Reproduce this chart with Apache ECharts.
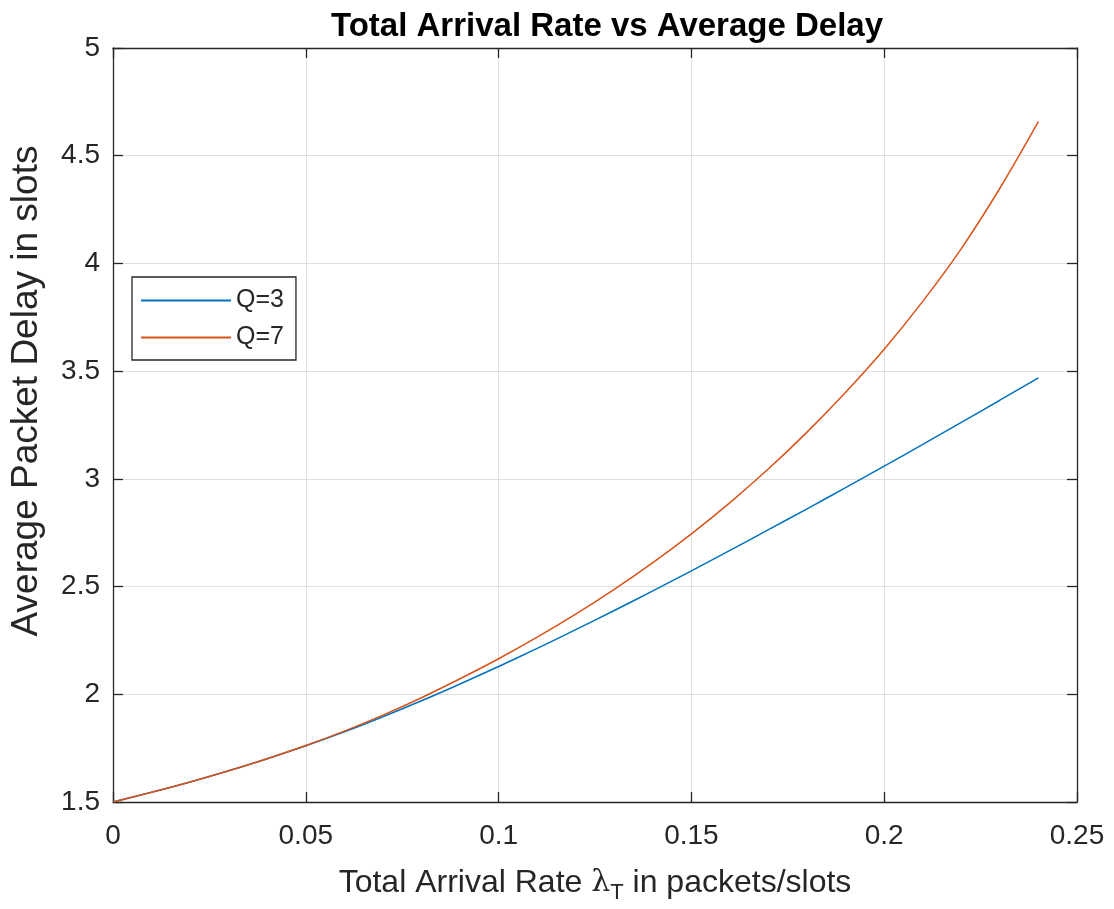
<!DOCTYPE html>
<html>
<head>
<meta charset="utf-8">
<script src="https://cdn.jsdelivr.net/npm/echarts@6/dist/echarts.min.js"></script>
<style>html,body{margin:0;padding:0;background:#fff;}#chart{width:1114px;height:909px;}</style>
</head>
<body>
<div id="chart"></div>
<script>
// Data
const xValues = [0.00,0.01,0.02,0.03,0.04,0.05,0.06,0.07,0.08,0.09,0.10,0.11,0.12,0.13,0.14,0.15,0.16,0.17,0.18,0.19,0.20,0.21,0.22,0.23,0.24];
const q3Delay = [1.500,1.545,1.593,1.645,1.701,1.761,1.826,1.896,1.970,2.048,2.129,2.213,2.300,2.389,2.480,2.573,2.668,2.764,2.861,2.959,3.059,3.160,3.262,3.365,3.469];
const q7Delay = [1.500,1.545,1.593,1.645,1.701,1.762,1.829,1.903,1.984,2.072,2.165,2.265,2.372,2.487,2.611,2.745,2.890,3.047,3.217,3.402,3.602,3.824,4.069,4.349,4.659];
const seriesNames = ['Q=3', 'Q=7'];
const xTicks = [0, 0.05, 0.1, 0.15, 0.2, 0.25];
const yTicks = [1.5, 2, 2.5, 3, 3.5, 4, 4.5, 5];

const FONT = 'Liberation Sans, Arial, sans-serif';
const TXT = '#262626';

const pairs = (ys) => xValues.map((x, i) => [x, ys[i]]);

const chart = echarts.init(document.getElementById('chart'), null, {renderer: 'canvas'});
const axisCommon = {
  type: 'value',
  axisLine: {show: true, onZero: false, lineStyle: {color: TXT, width: 1.3}},
  axisTick: {show: true, inside: true, length: 10, lineStyle: {color: TXT, width: 1.3}},
};
chart.setOption({
  animation: false,
  backgroundColor: '#fff',
  title: {
    text: 'Total Arrival Rate vs Average Delay',
    left: 602, top: 5, textAlign: 'center',
    textStyle: {fontFamily: FONT, fontWeight: 'bold', fontSize: 33, color: '#000'}
  },
  grid: {left: 110, right: 37, top: 48, bottom: 104, containLabel: false},
  legend: {
    left: 132, top: 277,
    orient: 'vertical',
    backgroundColor: '#fff',
    borderColor: TXT, borderWidth: 1.3, borderRadius: 0,
    padding: [11, 12, 10, 8],
    itemWidth: 90, itemHeight: 14, itemGap: 12,
    itemStyle: {opacity: 0},
    textStyle: {fontFamily: FONT, fontSize: 25, color: TXT},
    data: seriesNames
  },
  xAxis: [
    Object.assign({}, axisCommon, {
      position: 'bottom', min: xTicks[0], max: xTicks[xTicks.length - 1], interval: 0.05,
      axisLabel: {show: true, fontFamily: FONT, fontSize: 28, color: TXT, margin: 20,
        formatter: (v) => String(+v.toFixed(2))},
      splitLine: {show: true, lineStyle: {color: '#e0e0e0', width: 1}},
      name: '{a|Total Arrival Rate }{l|λ}{s|T}{a| in packets/slots}',
      nameLocation: 'middle', nameGap: 60,
      nameTextStyle: {
        rich: {
          a: {fontFamily: FONT, fontSize: 32, color: TXT},
          l: {fontFamily: 'DejaVu Serif, serif', fontSize: 30, color: TXT},
          s: {fontFamily: FONT, fontSize: 22, color: TXT, padding: [20, 0, 0, 0]}
        }
      }
    }),
    Object.assign({}, axisCommon, {
      position: 'top', min: xTicks[0], max: xTicks[xTicks.length - 1], interval: 0.05,
      axisLabel: {show: false}, splitLine: {show: false}
    })
  ],
  yAxis: [
    Object.assign({}, axisCommon, {
      position: 'left', min: yTicks[0], max: yTicks[yTicks.length - 1], interval: 0.5,
      axisLabel: {show: true, fontFamily: FONT, fontSize: 28, color: TXT, margin: 13,
        formatter: (v) => String(+v.toFixed(1))},
      splitLine: {show: true, lineStyle: {color: '#e0e0e0', width: 1}},
      name: 'Average Packet Delay in slots',
      nameLocation: 'middle', nameGap: 68, nameRotate: 90,
      nameTextStyle: {fontFamily: FONT, fontSize: 37, color: TXT, padding: [0, 0, 0, 68]}
    }),
    Object.assign({}, axisCommon, {
      position: 'right', min: yTicks[0], max: yTicks[yTicks.length - 1], interval: 0.5,
      axisLabel: {show: false}, splitLine: {show: false}
    })
  ],
  series: [
    {name: seriesNames[0], type: 'line', data: pairs(q3Delay), smooth: 0.4, symbol: 'none',
     lineStyle: {color: '#0072BD', width: 1.5}, itemStyle: {color: '#0072BD'}},
    {name: seriesNames[1], type: 'line', data: pairs(q7Delay), smooth: 0.4, symbol: 'none',
     lineStyle: {color: '#D95319', width: 1.5}, itemStyle: {color: '#D95319'}}
  ]
});
</script>
</body>
</html>
